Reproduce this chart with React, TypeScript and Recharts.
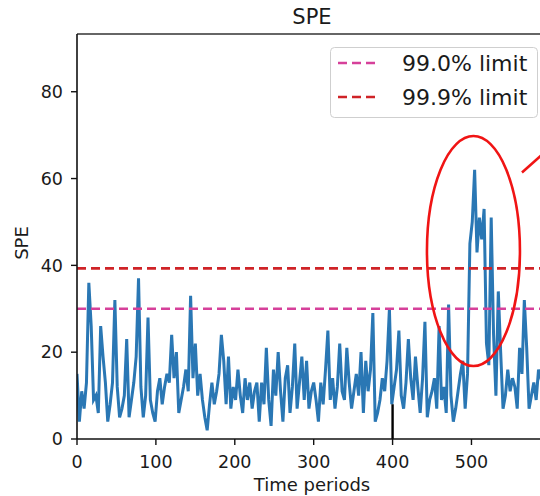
import { LineChart, Line, XAxis, YAxis, ReferenceLine, ReferenceDot } from "recharts";

// SPE read every 3 time periods (t = 0, 3, 6, ...)
const STEP = 3;
const speValues = [
  15, 4, 11, 7, 13, 36, 26, 9, 10, 6,
  26, 19, 13, 4, 8, 13, 32, 12, 5, 7,
  10, 23, 5, 9, 13, 19, 37, 12, 5, 10,
  28, 9, 6, 4, 11, 14, 8, 12, 15, 13,
  24, 14, 20, 6, 9, 12, 16, 11, 33, 14,
  22, 10, 15, 9, 5, 2, 8, 13, 8, 11,
  15, 24, 18, 8, 19, 7, 12, 9, 16, 10,
  6, 14, 9, 13, 7, 11, 13, 4, 13, 8,
  21, 9, 3, 16, 10, 20, 11, 4, 14, 17,
  6, 12, 22, 7, 13, 19, 9, 18, 7, 11,
  13, 9, 4, 13, 8, 16, 25, 9, 14, 7,
  12, 22, 11, 9, 21, 13, 7, 11, 15, 10,
  20, 6, 18, 11, 16, 29, 4, 6, 9, 14,
  11, 18, 30, 8, 12, 16, 25, 10, 7, 13,
  23, 14, 9, 19, 12, 6, 14, 27, 5, 9,
  11, 14, 7, 26, 9, 12, 6, 31, 10, 4,
  7, 11, 15, 18, 7, 15, 45, 50, 62, 43,
  51, 46, 53, 22, 17, 51, 24, 10, 34, 20,
  7, 10, 16, 11, 14, 12, 7, 21, 15, 32,
  21, 7, 10, 13, 9, 16, 14, 12,
];
const periods = speValues.map((_, i) => i * STEP);

const limitLabels = ["99.0% limit", "99.9% limit"];
const limitValues = [30, 39.3];

const xTicks = [0, 100, 200, 300, 400, 500];
const yTicks = [0, 20, 40, 60, 80];
const X_MAX = 597;
const Y_MAX = 93.3;

// annotation: ellipse round the fault window, pointer line, marker at t=400
const faultCentre = { t: 502.5, spe: 43.3 };
const pointer = [{ x: 564, y: 61.4 }, { x: 597, y: 66.7 }];
const marker = [{ x: 400, y: 0 }, { x: 400, y: 8 }];

const data = periods.map((t, i) => ({ t, spe: speValues[i] }));

const FONT = '"DejaVu Sans", sans-serif';
const INK = "#1a1a1a";
const LIMIT_COLORS = ["#d6409a", "#cf2327"];

const Ellipse = (props: any) => (
  <ellipse cx={props.cx} cy={props.cy} rx={46.5} ry={115} fill="none" stroke="#f01414" strokeWidth={2.6} />
);

export default function App() {
  return (
    <div style={{ position: "absolute", left: 0, top: 0, width: 540, height: 496, overflow: "hidden", background: "#fff" }}>
      <LineChart width={560} height={496} data={data} margin={{ top: 34, right: 12, left: 0, bottom: 0 }}>
        <XAxis
          dataKey="t"
          type="number"
          domain={[0, X_MAX]}
          ticks={xTicks}
          allowDataOverflow
          height={57}
          tickSize={6}
          tickMargin={11}
          tick={{ fill: INK, fontSize: 17.5, fontFamily: FONT }}
          axisLine={{ stroke: "#111", strokeWidth: 1.6 }}
          tickLine={{ stroke: "#111", strokeWidth: 1.4 }}
        />
        <YAxis
          type="number"
          domain={[0, Y_MAX]}
          ticks={yTicks}
          allowDataOverflow
          width={77}
          tickSize={6}
          tickMargin={8}
          tick={{ fill: INK, fontSize: 17.5, fontFamily: FONT }}
          axisLine={{ stroke: "#111", strokeWidth: 1.6 }}
          tickLine={{ stroke: "#111", strokeWidth: 1.4 }}
        />
        <ReferenceLine y={Y_MAX} stroke="#333" strokeWidth={1.6} />
        <Line
          dataKey="spe"
          type="linear"
          stroke="#2a77b4"
          strokeWidth={3}
          dot={false}
          isAnimationActive={false}
        />
        {limitValues.map((v, i) => (
          <ReferenceLine key={i} y={v} stroke={LIMIT_COLORS[i]} strokeWidth={2.7} strokeDasharray="9 5" />
        ))}
        <ReferenceLine segment={marker} stroke="#000" strokeWidth={2.4} />
        <ReferenceLine segment={pointer} stroke="#f01414" strokeWidth={2.6} />
        <ReferenceDot x={faultCentre.t} y={faultCentre.spe} shape={Ellipse} />
      </LineChart>

      <svg width={540} height={496} style={{ position: "absolute", left: 0, top: 0, pointerEvents: "none" }}>
        <g fontFamily={FONT} fill={INK}>
          <text x={312} y={24} textAnchor="middle" fontSize={21}>SPE</text>
          <text x={312} y={490.5} textAnchor="middle" fontSize={18}>Time periods</text>
          <text x={28} y={243} textAnchor="middle" fontSize={18} transform="rotate(-90 28 243)">SPE</text>
        </g>
        <rect x={330.5} y={47.5} width={207} height={70} rx={4} fill="#fff" fillOpacity={0.85} stroke="#cfcfcf" />
        {limitLabels.map((label, i) => (
          <g key={label}>
            <line x1={338} x2={378} y1={63 + i * 34} y2={63 + i * 34} stroke={LIMIT_COLORS[i]} strokeWidth={2.7} strokeDasharray="9 5" />
            <text x={402} y={63 + i * 34} dy="0.36em" fontSize={22} fontFamily={FONT} fill={INK}>{label}</text>
          </g>
        ))}
      </svg>
    </div>
  );
}
